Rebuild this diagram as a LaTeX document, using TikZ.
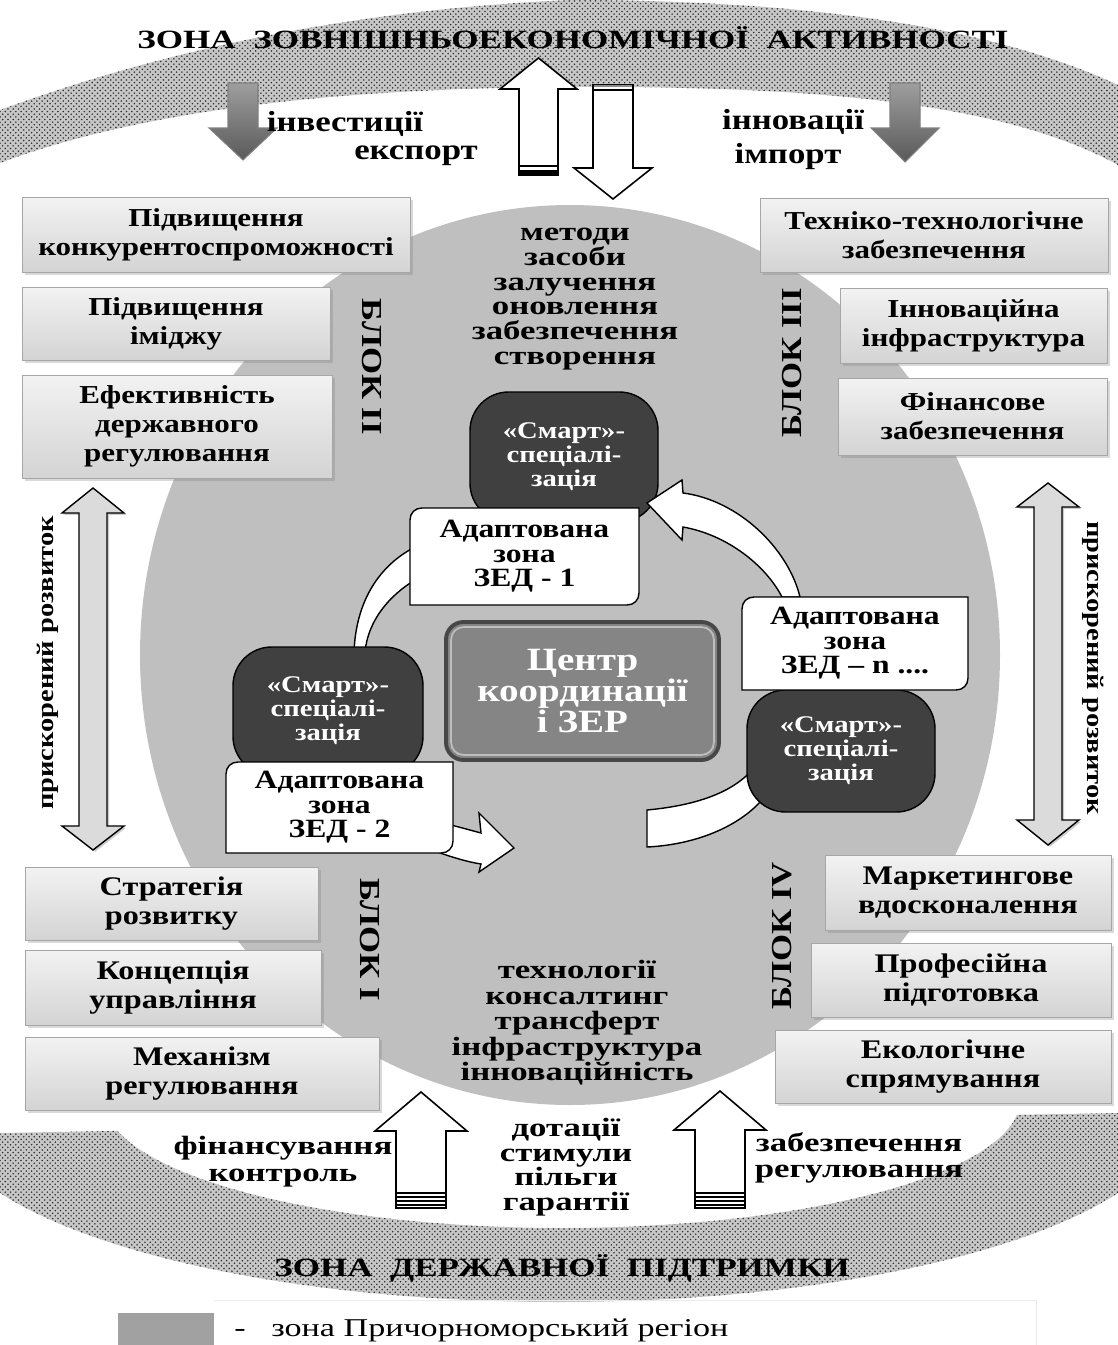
\documentclass[tikz,border=0pt]{standalone}
\usepackage{fontspec}
\setmainfont{Liberation Serif}
\newfontfamily\wf[FakeStretch=1.2]{Liberation Serif}
\newfontfamily\wfx[FakeStretch=1.32]{Liberation Serif}
\newfontfamily\tf[FakeStretch=1.33]{Liberation Serif}
\usetikzlibrary{patterns,shadows,calc}
\newcommand\fsz[2]{\fontsize{#1pt}{#2pt}\selectfont}
\newcommand\boxat[7]{\node[#1,minimum width={(#5-#3)*0.02cm},minimum height={(#6-#4)*0.02cm}] (#2) at ({(#3+#5)/2},{(#4+#6)/2}) {#7};}
\newcommand\abox[6]{%
  \filldraw[fill=white,draw=black,line width=0.8pt] (#2,#5) -- (#2,{#3+12}) .. controls (#2,{#3+5}) and ({#2+5},#3) .. ({#2+12},#3) -- (#4,#3) -- (#4,{#5-12}) .. controls (#4,{#5-5}) and ({#4-5},#5) .. ({#4-12},#5) -- cycle;
  \node[atext,minimum width={(#4-#2)*0.02cm},minimum height={(#5-#3)*0.02cm}] (#1) at ({(#2+#4)/2},{(#3+#5)/2}) {#6};}
\begin{document}
\begin{tikzpicture}[x=0.02cm,y=-0.02cm,
 dots/.style={preaction={fill=black!22},pattern=crosshatch dots,pattern color=black!80},
 gbox/.style={draw=black!35,top color=black!5,bottom color=black!17,drop shadow={shadow xshift=1.5pt,shadow yshift=-1.5pt,opacity=0.3},align=center,inner sep=0pt},
 topfont/.style={font=\wf\bfseries\fsz{14.7}{16.4}},
 botfont/.style={font=\wf\bfseries\fsz{15.3}{16.2}},
 lbl/.style={font=\wf\bfseries\fsz{16.5}{14.5},align=center,inner sep=0pt},
 clbl/.style={font=\wfx\bfseries\fsz{15}{14.5},align=center,inner sep=0pt},
 blk/.style={font=\wf\bfseries\fsz{16.5}{16.5},inner sep=0pt},
 ttl/.style={font=\tf\bfseries\fsz{15}{16},inner sep=0pt},
 garrow/.style={top color=black!38,bottom color=black!65,draw=black!50,line width=0.6pt},
 warrow/.style={fill=white,draw=black,line width=0.9pt},
 darrow/.style={fill=black!14,draw=black,line width=0.8pt,drop shadow={shadow xshift=1.2pt,shadow yshift=-1pt,opacity=0.4}},
 smart/.style={fill=black!75,draw=black,line width=0.8pt,rounded corners=22pt,text=white,align=center,inner sep=0pt,font=\wf\bfseries\fsz{13.6}{13.6}},
 atext/.style={align=center,inner sep=0pt,font=\wf\bfseries\fsz{15}{13.9}},
 cyc/.style={fill=white,draw=black,line width=0.8pt},
 cbox/.style={fill=black!48,draw=black!72,line width=2.2pt,rounded corners=10pt,text=white,align=center,inner sep=0pt,font=\wf\bfseries\fsz{18.5}{15.3}}
]
\useasboundingbox (0,0) rectangle (1118,1345);

% ---------- top band ----------
\fill[dots] (0,110) .. controls (110,70) and (300,12) .. (570,0) .. controls (820,0) and (1000,30) .. (1118,85)
  -- (1118,165) .. controls (1000,100) and (800,86) .. (570,87) .. controls (300,88) and (120,118) .. (0,163) -- cycle;
\node[ttl] (ztop) at (573,38) {ЗОНА\ \ ЗОВНІШНЬОЕКОНОМІЧНОЇ\ \ АКТИВНОСТІ};

% ---------- bottom band ----------
\begin{scope}
\clip (0,1133) -- (1118,1113) -- (1118,1345) -- (0,1345) -- cycle;
\fill[dots] plot[domain=-10:190,samples=90,smooth] ({559+620*cos(\x)},{1110+192*sin(\x)})
  -- plot[domain=190:-10,samples=90,smooth] ({562+458*cos(\x)},{1100+128*sin(\x)}) -- cycle;
\end{scope}
\node[ttl] (zbot) at (562,1268) {ЗОНА\ \ ДЕРЖАВНОЇ\ \ ПІДТРИМКИ};

% ---------- big circle ----------
\fill[black!25] (570,655) ellipse (430 and 450);

% ---------- top arrows ----------
\draw[garrow] (228,83) -- (258,83) -- (258,128) -- (277,128) -- (243,160) -- (209,128) -- (228,128) -- cycle;
\draw[garrow] (890,83) -- (920,83) -- (920,128) -- (939,128) -- (905,162) -- (871,128) -- (890,128) -- cycle;
\draw[warrow] (519,175) -- (519,89) -- (500,89) -- (538.5,58) -- (577,89) -- (558,89) -- (558,175) -- cycle;
\draw[line width=1.1pt] (519,166) -- (558,166);
\fill (519,170) rectangle (558,175);
\draw[warrow] (593,85) -- (633,85) -- (633,168) -- (652,168) -- (613,199) -- (574,168) -- (593,168) -- cycle;
\draw[black!45,line width=1.5pt] (594,86) -- (632,86);
\draw[line width=1.2pt] (594,90) -- (632,90);
\node[lbl] (inv) at (345,124) {інвестиції};
\node[lbl] (exp) at (416,156) {експорт};
\node[lbl] (inn) at (793,122) {інновації};
\node[lbl] (imp) at (788,157) {імпорт};

% ---------- side boxes ----------
\boxat{gbox,topfont}{l1}{22}{197}{410}{272}{Підвищення\\конкурентоспроможності}
\boxat{gbox,topfont}{l2}{22}{287}{330}{360}{Підвищення\\іміджу}
\boxat{gbox,topfont}{l3}{22}{375}{332}{478}{Ефективність\\державного\\регулювання}
\boxat{gbox,topfont}{r1}{760}{198}{1108}{272}{Техніко-технологічне\\забезпечення}
\boxat{gbox,topfont}{r2}{840}{288}{1107}{363}{Інноваційна\\інфраструктура}
\boxat{gbox,topfont}{r3}{838}{378}{1107}{455}{Фінансове\\забезпечення}
\boxat{gbox,botfont}{b1}{25}{867}{318}{940}{Стратегія\\розвитку}
\boxat{gbox,botfont}{b2}{25}{950}{321}{1025}{Концепція\\управління}
\boxat{gbox,botfont}{b3}{25}{1037}{379}{1110}{Механізм\\регулювання}
\boxat{gbox,botfont}{b4}{825}{855}{1111}{930}{Маркетингове\\вдосконалення}
\boxat{gbox,botfont}{b5}{811}{943}{1111}{1017}{Професійна\\підготовка}
\boxat{gbox,botfont}{b6}{775}{1030}{1111}{1103}{Екологічне\\спрямування}

\node[blk,rotate=-90] (blk2) at (372,367) {БЛОК II};
\node[blk,rotate=90] (blk3) at (792,363) {БЛОК III};
\node[blk,rotate=-90] (blk1) at (370,940) {БЛОК I};
\node[blk,rotate=90] (blk4) at (782,936) {БЛОК IV};

% ---------- side double arrows ----------
\draw[darrow] (93,488) -- (124,513) -- (107,513) -- (107,826) -- (124,826) -- (93,850) -- (62,826) -- (79,826) -- (79,513) -- (62,513) -- cycle;
\draw[darrow] (1048,483) -- (1079,507) -- (1062,507) -- (1062,820) -- (1079,820) -- (1048,845) -- (1017,820) -- (1034,820) -- (1034,507) -- (1017,507) -- cycle;
\node[blk,font=\wf\bfseries\fsz{13.5}{13.5},rotate=90] (acc1) at (48,663) {прискорений розвиток};
\node[blk,font=\wf\bfseries\fsz{13.5}{13.5},rotate=-90] (acc2) at (1093,668) {прискорений розвиток};

% ---------- circle texts ----------
\node[clbl,font=\wfx\bfseries\fsz{15}{14.1}] (meth) at (575,299) {методи\\засоби\\залучення\\оновлення\\забезпечення\\створення};
\node[clbl] (tech) at (577,1023) {технології\\консалтинг\\трансферт\\інфраструктура\\інноваційність};

% ---------- cycle ----------
\boxat{smart}{s1}{470}{392}{658}{522}{«Смарт»-\\спеціалі-\\зація}
\draw[cyc] (800,597) .. controls (788,548) and (738,500) .. (683,493) -- (682,480) -- (647,503) -- (682,540) -- (683,527) .. controls (728,535) and (766,566) .. (782,597) -- cycle;
\draw[cyc] (354,652) .. controls (356,600) and (380,565) .. (415,547) -- (415,580) .. controls (390,595) and (368,620) .. (365,652) -- cycle;
\draw[cyc] (647,810) .. controls (690,806) and (730,795) .. (752,770) -- (762,800) .. controls (735,830) and (690,845) .. (647,847) -- cycle;
\draw[cyc] (440,822) .. controls (455,826) and (470,830) .. (481,833) -- (479,813) -- (514,848) -- (479,872) -- (481,864) .. controls (468,862) and (455,858) .. (440,853) -- cycle;
\boxat{smart}{s2}{233}{647}{423}{775}{«Смарт»-\\спеціалі-\\зація}
\boxat{smart}{sn}{747}{690}{935}{812}{«Смарт»-\\спеціалі-\\зація}
\abox{a1}{410}{508}{639}{605}{Адаптована\\зона\\ЗЕД - 1}
\abox{a2}{226}{762}{453}{853}{Адаптована\\зона\\ЗЕД - 2}
\abox{an}{742}{597}{968}{690}{Адаптована\\зона\\ЗЕД – n ....}
\boxat{cbox}{ctr}{446}{622}{719}{760}{Центр\\координації\\і ЗЕР}
\draw[black!25,line width=1pt,rounded corners=7pt] ($(ctr.north west)+(4pt,-4pt)$) rectangle ($(ctr.south east)+(-4pt,4pt)$);

% ---------- bottom arrows ----------
\draw[warrow] (396,1208) -- (396,1131) -- (375,1131) -- (421,1092) -- (467,1131) -- (446,1131) -- (446,1208) -- cycle;
\draw[warrow] (695,1208) -- (695,1130) -- (674,1130) -- (720,1091) -- (766,1130) -- (745,1130) -- (745,1208) -- cycle;
\foreach \yy in {1193,1197,1201,1205}{
  \draw[line width=1pt] (396,\yy) -- (446,\yy);
  \draw[line width=1pt] (695,\yy) -- (745,\yy);}
\node[clbl,font=\wfx\bfseries\fsz{15}{15.2}] (fin) at (283,1162) {фінансування\\контроль};
\node[clbl,font=\wfx\bfseries\fsz{15}{14}] (dot) at (566,1167) {дотації\\стимули\\пільги\\гарантії};
\node[clbl,font=\wfx\bfseries\fsz{15}{15.2}] (zab) at (859,1158) {забезпечення\\регулювання};

% ---------- legend ----------
\draw[black!8] (214,1300) -- (1036,1300) -- (1036,1345);
\fill[black!37] (118,1313) rectangle (214,1345);
\node[anchor=west,inner sep=0pt,font=\tf\fsz{14.6}{14.6}] (leg) at (234,1330) {-\quad зона Причорноморський регіон};
\end{tikzpicture}
\end{document}
